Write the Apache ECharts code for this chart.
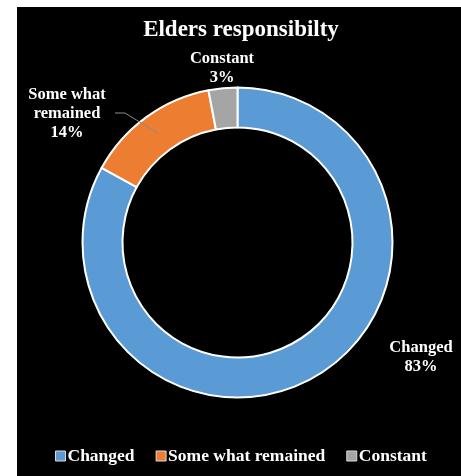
<!DOCTYPE html>
<html>
<head>
<meta charset="utf-8">
<script src="https://cdn.jsdelivr.net/npm/echarts@6/dist/echarts.min.js"></script>
<style>
html,body{margin:0;padding:0;background:#fff;}
#chart{width:461px;height:476px;}
</style>
</head>
<body>
<div id="chart"></div>
<script>
const categories = ['Changed', 'Some what remained', 'Constant'];
const values = [83, 14, 3];
const colors = ['#5B9BD5', '#ED7D31', '#A5A5A5'];
const titleText = 'Elders responsibilty';

const FONT = '"Liberation Serif", "Times New Roman", serif';
const CX = 237.5, CY = 242.5, R0 = 115, R1 = 155;
const labelPos = [
  {x: 421, y: 357},
  {x: 67, y: 114},
  {x: 222, y: 68}
];

const total = values.reduce((a, b) => a + b, 0);
function midAngle(i) {
  let start = 90;
  for (let k = 0; k < i; k++) start -= values[k] / total * 360;
  return (start - values[i] / total * 360 / 2) * Math.PI / 180;
}
// leader line for the "Some what remained" label: from ring middle to label side
const la = midAngle(1), lr = (R0 + R1) / 2;
const lsx = CX + lr * Math.cos(la), lsy = CY - lr * Math.sin(la);

const chart = echarts.init(document.getElementById('chart'), null, {renderer: 'canvas'});
chart.setOption({
  backgroundColor: '#fff',
  animation: false,
  graphic: [{
    type: 'rect', z: -10,
    shape: {x: 17, y: 7, width: 444, height: 469},
    style: {fill: '#000'}
  }, {
    type: 'polyline', z: 100,
    shape: {points: [[115, labelPos[1].y - 1], [125, labelPos[1].y - 1], [lsx, lsy]]},
    style: {stroke: '#8c8c8c', lineWidth: 1, fill: null}
  }],
  title: {
    text: titleText,
    left: 236, top: 14, textAlign: 'center',
    textStyle: {color: '#fff', fontFamily: FONT, fontWeight: 'bold', fontSize: 23}
  },
  legend: {
    data: categories,
    bottom: 6, left: 50,
    icon: 'rect', itemWidth: 10, itemHeight: 10, itemGap: 21,
    textStyle: {color: '#fff', fontFamily: FONT, fontWeight: 'bold', fontSize: 17.5, padding: [0,0,0,-3]},
    itemStyle: {borderColor: '#d9d9d9', borderWidth: 1}
  },
  series: [{
    type: 'pie',
    center: [CX, CY],
    radius: [R0, R1],
    startAngle: 90,
    clockwise: true,
    itemStyle: {borderColor: '#fff', borderWidth: 2},
    label: {
      show: true,
      position: 'outside',
      color: '#fff',
      overflow: 'none',
      fontFamily: FONT, fontWeight: 'bold', fontSize: 16.5, lineHeight: 19,
      align: 'center',
      formatter: p => p.name.replace('Some what remained', 'Some what\nremained') + '\n' + p.value + '%'
    },
    labelLine: {show: false},
    labelLayout: function (p) {
      const pos = labelPos[p.dataIndex];
      return {x: pos.x, y: pos.y, align: 'center', verticalAlign: 'middle'};
    },
    data: categories.map((c, i) => ({
      name: c, value: values[i],
      itemStyle: {color: colors[i]}
    }))
  }]
});
</script>
</body>
</html>
